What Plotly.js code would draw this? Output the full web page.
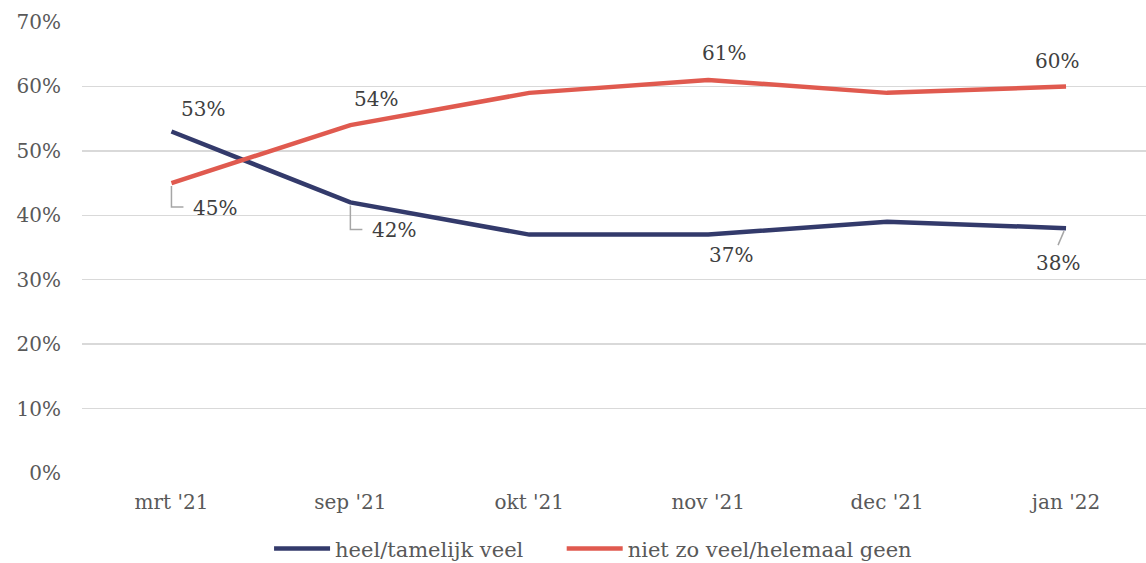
<!DOCTYPE html>
<html><head><meta charset="utf-8">
<script src="https://cdn.plot.ly/plotly-3.0.1.min.js"></script>
<style>html,body{margin:0;padding:0;background:#fff}#chart{width:1146px;height:563px}</style>
</head><body><div id="chart"></div>
<script>
const categories = ["mrt '21", "sep '21", "okt '21", "nov '21", "dec '21", "jan '22"];
const heelVeel = [53, 42, 37, 37, 39, 38];
const nietVeel = [45, 54, 59, 61, 59, 60];
const seriesNames = ["heel/tamelijk veel", "niet zo veel/helemaal geen"];
const yTicks = [0, 10, 20, 30, 40, 50, 60, 70];

// labels: [series, index, xshift, yshift, leader]
const labelSpec = [
  [0, 0, 32, 23, null],
  [1, 0, 44, -25, 'elbow'],
  [1, 1, 26, 26, null],
  [0, 1, 44, -28, 'elbow'],
  [1, 3, 16, 27, null],
  [0, 3, 23, -20, null],
  [1, 5, -9, 25, null],
  [0, 5, -8, -35, 'diag']
];

const FONT = "DejaVu Serif, Liberation Serif, serif";
const colors = ["#333a6b", "#e05a4f"];
const series = [heelVeel, nietVeel];

const traces = series.map((vals, i) => ({
  x: categories.map((c, j) => j), y: vals, type: 'scatter', mode: 'lines',
  name: i === 0 ? seriesNames[i] + '\u00a0\u00a0\u00a0\u00a0\u00a0' : seriesNames[i],
  line: {color: colors[i], width: 4.5}, hoverinfo: 'skip'
}));

const annotations = labelSpec.map(([s, j, dx, dy]) => ({
  x: j, y: series[s][j], xref: 'x', yref: 'y', text: series[s][j] + '%',
  showarrow: false, xshift: dx, yshift: dy,
  font: {family: FONT, size: 20, color: '#404040'}
}));

const shapes = [];
labelSpec.forEach(([s, j, dx, dy, leader]) => {
  if (!leader) return;
  let path;
  if (leader === 'elbow') path = `M0,-3 V${dy + 1} H12`;
  else path = `M-2,-3 L-8,-17`;
  shapes.push({type: 'path', xref: 'x', yref: 'y', xsizemode: 'pixel', ysizemode: 'pixel',
    xanchor: j, yanchor: series[s][j], path: path,
    line: {color: '#a6a6a6', width: 1.5}});
});

const layout = {
  width: 1146, height: 563, paper_bgcolor: '#fff', plot_bgcolor: '#fff',
  margin: {l: 81.5, r: 0, t: 22, b: 90, autoexpand: false},
  font: {family: FONT, color: '#595959', size: 20},
  xaxis: {range: [-0.5, 5.447], tickvals: categories.map((c, j) => j), ticktext: categories,
    showgrid: false, zeroline: false, showline: false, ticks: '', ticklabelstandoff: 15,
    tickfont: {family: FONT, size: 20, color: '#595959'}},
  yaxis: {range: [0, 70], tickvals: yTicks, ticktext: yTicks.map(v => v + '%'),
    showgrid: true, gridcolor: '#d9d9d9', gridwidth: 1.5, zeroline: false, showline: false,
    ticks: '', ticklabelstandoff: 20, tickfont: {family: FONT, size: 20, color: '#595959'}},
  showlegend: true,
  legend: {orientation: 'h', x: 0.5175, xanchor: 'center', xref: 'container', y: 0.025, yanchor: 'middle', yref: 'container',
    font: {family: FONT, size: 21, color: '#595959'}, itemwidth: 56, traceorder: 'normal'},
  annotations: annotations, shapes: shapes
};

Plotly.newPlot('chart', traces, layout, {displayModeBar: false, staticPlot: true});
</script></body></html>
